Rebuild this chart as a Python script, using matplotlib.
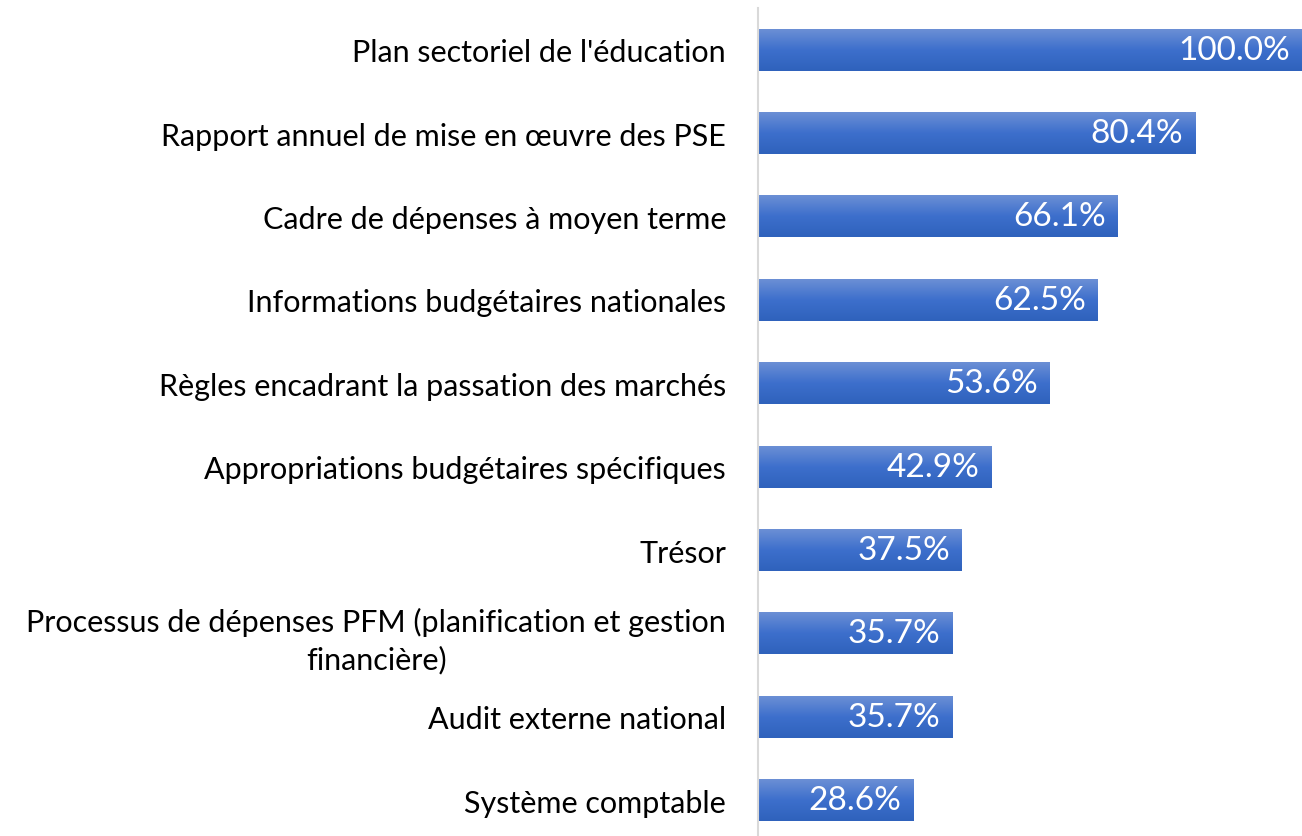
import matplotlib
matplotlib.use("agg")
import matplotlib.pyplot as plt
from matplotlib.colors import LinearSegmentedColormap
import numpy as np

plt.rcParams['font.family'] = ['Lato', 'DejaVu Sans']

categories = [
    "Plan sectoriel de l'éducation",
    "Rapport annuel de mise en œuvre des PSE",
    "Cadre de dépenses à moyen terme",
    "Informations budgétaires nationales",
    "Règles encadrant la passation des marchés",
    "Appropriations budgétaires spécifiques",
    "Trésor",
    "Processus de dépenses PFM (planification et gestion\nfinancière)",
    "Audit externe national",
    "Système comptable",
]
values = [100.0, 80.4, 66.1, 62.5, 53.6, 42.9, 37.5, 35.7, 35.7, 28.6]

fig = plt.figure(figsize=(13.02, 8.37), dpi=100)
ax = fig.add_axes([758 / 1302, -6 / 837, 544 / 1302, 1 - 3 / 837])

ypos = np.arange(len(categories))
bar_h = 0.5
bars = ax.barh(ypos, values, height=bar_h, color='none', edgecolor='none')

# vertical gradient like the office style fill
grad_cmap = LinearSegmentedColormap.from_list("g", ["#6b8fd5", "#3d6fcc", "#2f62bc"])
grad = np.linspace(0, 1, 64).reshape(-1, 1)
for b, v in zip(bars, values):
    x0, y0, w, h = b.get_x(), b.get_y(), b.get_width(), b.get_height()
    ax.imshow(grad, cmap=grad_cmap, aspect='auto', interpolation='bicubic',
              extent=(x0, x0 + w, y0 + h, y0), zorder=2)
    ax.text(v - 2.2, b.get_y() + h / 2, f"{v:.1f}%", color='white',
            ha='right', va='center', fontsize=24, zorder=3)

ax.set_xlim(0, 100)
ax.set_ylim(len(categories) - 0.5, -0.5)
ax.set_yticks(ypos)
ax.set_yticklabels(categories, fontsize=22)
for lab in ax.get_yticklabels():
    lab.set_multialignment('center')
    lab.set_linespacing(1.35)
ax.tick_params(axis='y', length=0, pad=23)
ax.set_xticks([])
for s in ['top', 'right', 'bottom']:
    ax.spines[s].set_visible(False)
ax.spines['left'].set_color('#d9d9d9')
ax.spines['left'].set_linewidth(1.5)

fig.savefig("out.png", dpi=100)
